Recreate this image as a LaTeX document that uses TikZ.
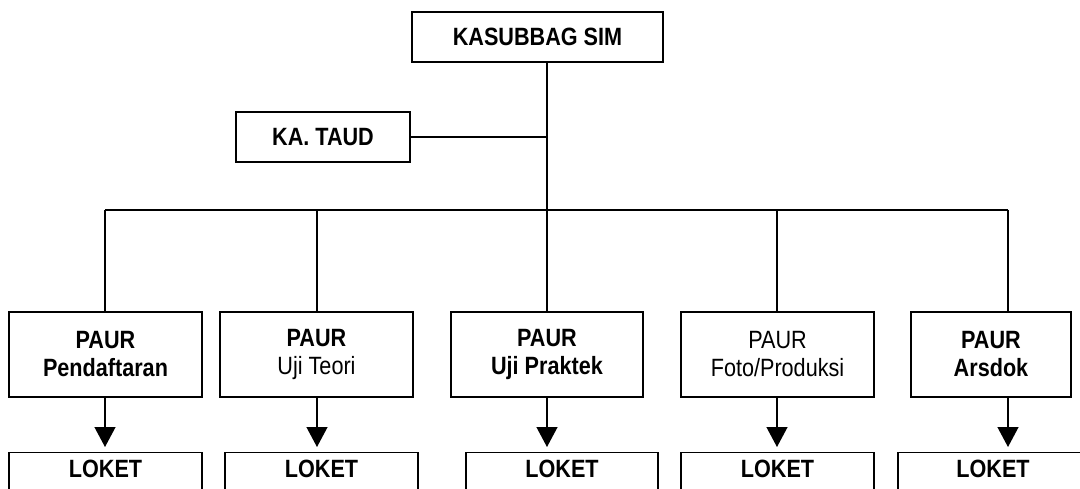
\documentclass[tikz,border=0pt]{standalone}
\usepackage{fontspec}
\setmainfont[FakeStretch=0.865]{Liberation Sans}
\usetikzlibrary{arrows.meta,positioning,calc}
\definecolor{ink}{HTML}{000000}
\tikzset{
  box/.style={draw=ink,line width=1.3pt,fill=white,inner sep=2pt,align=center,text=ink,
    font=\fontsize{25}{28}\selectfont,minimum height=85pt},
  boxtop/.style={box,minimum height=50pt},
  boxl/.style={draw=ink,line width=1.3pt,anchor=north,inner ysep=7pt,text height=18pt,text depth=40pt,
    font=\fontsize{25}{28}\selectfont\bfseries,text=ink},
  ln/.style={draw=ink,line width=1.3pt},
  ar/.style={-{Triangle[width=21pt,length=20pt]},draw=ink,line width=1.3pt,shorten >=5pt},
}
\begin{document}
\begin{tikzpicture}[x=1pt,y=-1pt]
  \useasboundingbox (0,0) rectangle (1080,489);
  \clip (0,0) rectangle (1080,489);
  % ── top ──
  \node[boxtop,minimum width=251pt] (kasub) at (537.5,37) {\textbf{KASUBBAG SIM}};
  \node[boxtop,minimum width=174pt] (taud) at (323,137) {\textbf{KA. TAUD}};
  \coordinate (trunk) at (547,210);
  \draw[ln] (kasub.south -| trunk) -- (trunk);
  \draw[ln] (taud.east) -- (taud.east -| trunk);
  % ── bus ──
  \coordinate (d1) at (105,210); \coordinate (d2) at (317,210); \coordinate (d3) at (547,210);
  \coordinate (d4) at (777,210); \coordinate (d5) at (1008,210);
  \draw[ln] (d1) -- (d5);
  % ── paur ──
  \node[box,minimum width=193pt] (p1) at (105.5,354.5) {\textbf{PAUR}\\\textbf{Pendaftaran}};
  \node[box,minimum width=193pt] (p2) at (316.5,354.5) {\textbf{PAUR}\\Uji Teori};
  \node[box,minimum width=192pt] (p3) at (547,354.5) {\textbf{PAUR}\\\textbf{Uji Praktek}};
  \node[box,minimum width=193pt] (p4) at (777.5,354.5) {PAUR\\Foto/Produksi};
  \node[box,minimum width=160pt] (p5) at (991,354.5) {\textbf{PAUR}\\\textbf{Arsdok}};
  % ── loket ──
  \node[boxl,minimum width=193pt] (l1) at (105.5,452) {LOKET};
  \node[boxl,minimum width=193pt] (l2) at (321.5,452) {LOKET};
  \node[boxl,minimum width=192pt] (l3) at (562,452) {LOKET};
  \node[boxl,minimum width=193pt] (l4) at (777.5,452) {LOKET};
  \node[boxl,minimum width=190pt] (l5) at (993,452) {LOKET};
  \foreach \i in {1,...,5} {
    \draw[ln] (d\i) -- (d\i |- p\i.north);
    \draw[ar] (d\i |- p\i.south) -- (d\i |- l\i.north);
  }
\end{tikzpicture}
\end{document}
